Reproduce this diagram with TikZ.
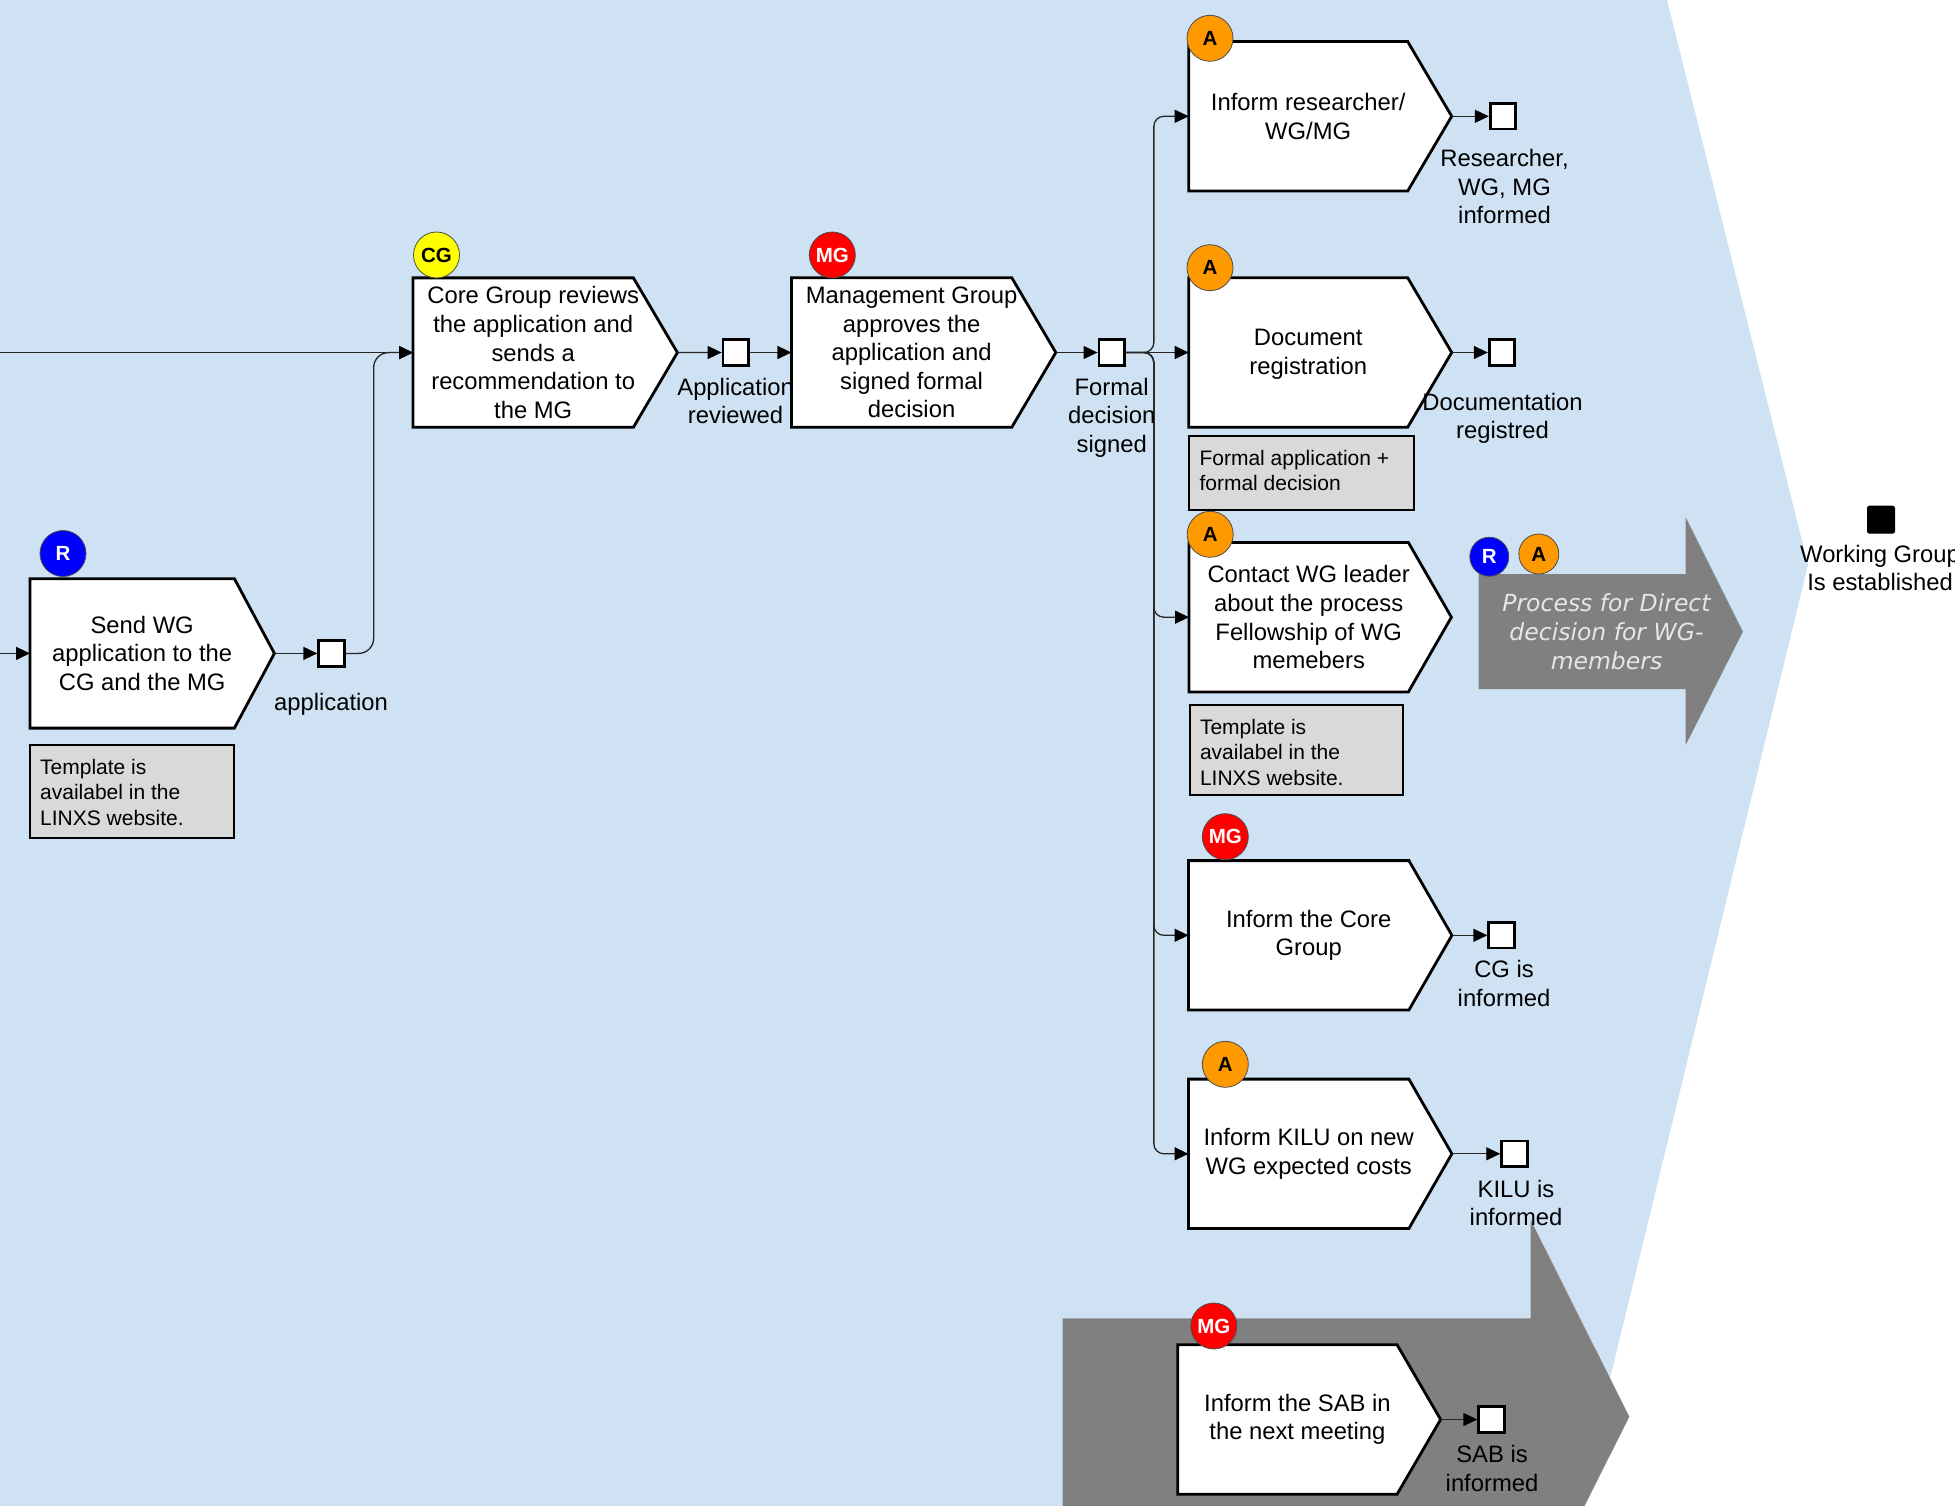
\documentclass[tikz,border=0pt]{standalone}
\usepackage{fontspec}
\setmainfont{Liberation Sans}
\newfontfamily\procfont{DejaVu Sans}
\usetikzlibrary{arrows.meta,calc}
\definecolor{bgblue}{HTML}{CFE2F3}
\definecolor{arrowgray}{HTML}{808080}
\definecolor{notegray}{HTML}{D9D9D9}
\definecolor{badgeorange}{HTML}{FF9900}
\definecolor{badgered}{HTML}{FF0000}
\definecolor{badgeblue}{HTML}{0000FF}
\definecolor{badgeyellow}{HTML}{FFFF00}
\definecolor{linegray}{HTML}{262626}
\definecolor{proctextgray}{HTML}{E6E6E6}
\tikzset{
  boxframe/.style={draw=black, line width=2.8pt, fill=white, line join=miter},
  boxanchor/.style={rectangle, draw=none, inner sep=0pt, minimum height=149, minimum width=#1},
  boxtext/.style={align=center, font=\fontsize{23.8}{28.6}\selectfont, inner sep=0pt},
  evbox/.style={rectangle, draw=black, line width=2.8pt, fill=white, minimum size=25.5, inner sep=0pt},
  endbox/.style={rectangle, draw=black, fill=black, line width=1pt, rounded corners=2pt, minimum size=27, inner sep=0pt},
  evlabel/.style={align=center, font=\fontsize{23.8}{28.6}\selectfont, inner sep=0pt},
  noteframe/.style={rectangle, draw=black, line width=2pt, fill=notegray, inner sep=0pt},
  notetext/.style={align=left, font=\fontsize{21}{25.2}\selectfont, inner sep=0pt, anchor=north west},
  badge/.style={circle, draw=black!70, line width=0.8pt, minimum size=46, inner sep=0pt, font=\fontsize{20.5}{24}\selectfont\bfseries},
  smallbadge/.style={badge, minimum size=39},
  conn/.style={draw=linegray, line width=1.3pt},
  arr/.style={conn, -{Triangle[length=14pt, width=13pt, color=black]}},
}
\newcommand\procbox[7][]{%
  \node[boxanchor=#5, anchor=west] (#2) at (#3,#4) {};
  \draw[boxframe] (#2.north west) -- (#2.north east) -- ($(#2.east)+(#6,0)$) coordinate (#2-tip) -- (#2.south east) -- (#2.south west) -- cycle;
  \node[boxtext, #1] (#2-text) at ($(#2.center)+(10,0)$) {#7};
}
\begin{document}
\begin{tikzpicture}[x=1pt, y=-1pt]
\useasboundingbox (0,0) rectangle (1955,1506);
% background chevron
\fill[bgblue] (0,0) -- (1667,0) -- (1808,565) -- (1579,1506) -- (0,1506) -- cycle;
% gray process arrows
\fill[arrowgray] (1062.5,1318.3) -- (1530.7,1318.3) -- (1530.7,1220) -- (1629.3,1416.7) -- (1530.7,1613.4) -- (1530.7,1516.7) -- (1062.5,1516.7) -- cycle;
\fill[arrowgray] (1478.6,574) -- (1685.7,574) -- (1685.7,517.3) -- (1742.9,631.7) -- (1685.7,745) -- (1685.7,689) -- (1478.6,689) -- cycle;
\node[align=center, font={\procfont\itshape\fontsize{23.5}{29}\selectfont}, text=proctextgray, inner sep=0pt] (ptext) at (1606.5,631.5) {Process for Direct\\decision for WG-\\members};

% process boxes
\procbox{send}{30}{653.4}{204}{40}{Send WG\\application to the\\CG and the MG}
\procbox{cg}{413}{352.6}{220}{44}{Core Group reviews\\the application and\\sends a\\recommendation to\\the MG}
\procbox{mg}{791.4}{352.5}{220}{44}{Management Group\\approves the\\application and\\signed formal\\decision}
\procbox{inf}{1188.7}{116.3}{218.6}{44}{Inform researcher/\\WG/MG}
\procbox[yshift=-2pt]{doc}{1188.7}{352.5}{218.6}{44}{Document\\registration}
\procbox{con}{1189}{617.2}{219}{43}{Contact WG leader\\about the process\\Fellowship of WG\\memebers}
\procbox{icg}{1188.5}{935.3}{220}{43}{Inform the Core\\Group}
\procbox{kilu}{1188.5}{1153.8}{220}{43}{Inform KILU on new\\WG expected costs}
\procbox{sab}{1177.7}{1419.5}{219}{43.5}{Inform the SAB in\\the next meeting}

% events
\node[evbox] (evapp) at (331.5,653.4) {};
\node[evbox] (evrev) at (735.8,352.5) {};
\node[evbox] (evfd) at (1111.7,352.5) {};
\node[evbox] (evinf) at (1503,116.3) {};
\node[evbox] (evdoc) at (1502,352.5) {};
\node[evbox] (evicg) at (1501.5,935.3) {};
\node[evbox] (evkilu) at (1514.4,1153.8) {};
\node[evbox] (evsab) at (1491.5,1419.5) {};
\node[endbox] (wg) at (1881,519.7) {};

% connectors
\coordinate (inA) at (0,352.6);
\coordinate (inB) at (0,653.4);
\draw[arr] (inA) -- (cg.west);
\draw[arr] (inB) -- (send.west);
\draw[arr] (send-tip) -- (evapp.west);
\draw[arr, rounded corners=15pt] (evapp.east) -- ++(28,0) |- (cg.west);
\draw[arr] (cg-tip) -- (evrev.west);
\draw[arr] (evrev.east) -- (mg.west);
\draw[arr] (mg-tip) -- (evfd.west);
\draw[arr] (evfd.east) -- (doc.west);
\draw[arr, rounded corners=10pt] (evfd.east) -- ++(28,0) |- (inf.west);
\draw[arr, rounded corners=10pt] (evfd.east) -- ++(28,0) |- (con.west);
\draw[arr, rounded corners=10pt] (evfd.east) -- ++(28,0) |- (icg.west);
\draw[arr, rounded corners=10pt] (evfd.east) -- ++(28,0) |- (kilu.west);
\draw[arr] (inf-tip) -- (evinf.west);
\draw[arr] (doc-tip) -- (evdoc.west);
\draw[arr] (icg-tip) -- (evicg.west);
\draw[arr] (kilu-tip) -- (evkilu.west);
\draw[arr] (sab-tip) -- (evsab.west);

% notes (frame + top-aligned text)
\node[noteframe, minimum width=204, minimum height=93.7, anchor=north west] (note1) at (29,743.7) {};
\node[notetext] (note1-text) at ($(note1.north west)+(11,15.5)$) {Template is\\availabel in the\\LINXS website.};
\node[noteframe, minimum width=225, minimum height=74, anchor=north west] (note2) at (1188.3,435.3) {};
\node[notetext] (note2-text) at ($(note2.north west)+(11,14.5)$) {Formal application +\\formal decision};
\node[noteframe, minimum width=213, minimum height=90, anchor=north west] (note3) at (1188.8,704.3) {};
\node[notetext] (note3-text) at ($(note3.north west)+(11,15)$) {Template is\\availabel in the\\LINXS website.};

% badges
\node[badge, fill=badgeblue, text=white] (b1) at (63,553.5) {R};
\node[badge, fill=badgeyellow, text=black] (b2) at (436.5,255) {CG};
\node[badge, fill=badgered, text=white] (b3) at (832.3,255) {MG};
\node[badge, fill=badgeorange, text=black] (b4) at (1210,38.3) {A};
\node[badge, fill=badgeorange, text=black] (b5) at (1210,267.7) {A};
\node[badge, fill=badgeorange, text=black] (b6) at (1210.2,534.3) {A};
\node[badge, fill=badgered, text=white] (b7) at (1225.3,836.7) {MG};
\node[badge, fill=badgeorange, text=black] (b8) at (1225.3,1064.3) {A};
\node[badge, fill=badgered, text=white] (b9) at (1213.8,1326) {MG};
\node[smallbadge, fill=badgeblue, text=white] (b10) at (1489.3,556.7) {R};
\node[smallbadge, minimum size=40, fill=badgeorange, text=black] (b11) at (1538.8,554) {A};

% event labels
\node[evlabel] (lapp) at (331,704.5) {application};
\node[evlabel] (lrev) at (735.6,400.8) {Application\\reviewed};
\node[evlabel] (lfd) at (1111.7,417.5) {Formal\\decision\\signed};
\node[evlabel] (linf) at (1504.5,186.7) {Researcher,\\WG, MG\\informed};
\node[evlabel] (ldoc) at (1502.5,418.5) {Documentation\\registred};
\node[evlabel] (licg) at (1504,983.5) {CG is\\informed};
\node[evlabel] (lkilu) at (1516,1203) {KILU is\\informed};
\node[evlabel] (lsab) at (1492,1468.5) {SAB is\\informed};
\node[evlabel] (lwg) at (1880,568) {Working Group\\Is established};
\end{tikzpicture}
\end{document}
